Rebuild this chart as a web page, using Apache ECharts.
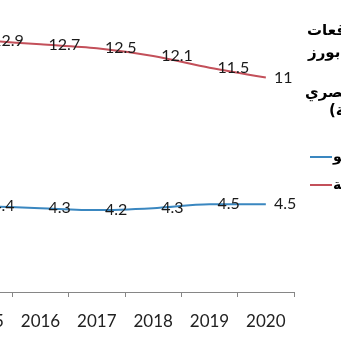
<!DOCTYPE html>
<html>
<head>
<meta charset="utf-8">
<script src="https://cdn.jsdelivr.net/npm/echarts@6/dist/echarts.min.js"></script>
<style>
html,body{margin:0;padding:0;background:#fff;}
#c{width:341px;height:341px;}
</style>
</head>
<body>
<div id="c"></div>
<script>
const years = ['2015', '2016', '2017', '2018', '2019', '2020'];
const unemployment = [12.9, 12.7, 12.5, 12.1, 11.5, 11];
const growth = [4.4, 4.3, 4.2, 4.3, 4.5, 4.5];
const seriesNames = ['\u200Fمعدل النمو\u200F', '\u200Fمعدل البطالة\u200F'];
const titleLines = [
  'معدلي النمو والبطالة وفق توقعات',
  'مؤسسة ستاندرد آند بورز',
  'في الاقتصاد',
  'المصري',
  '\u200F(نسبة مئوية)\u200F'
];

const chart = echarts.init(document.getElementById('c'), null, {renderer: 'canvas'});
const arFont = '"DejaVu Sans", sans-serif';
const numFont = 'Lato, "Open Sans", sans-serif';
const titleX = [307, 308, 352, 305, 329];
const titleY = [33, 55, 74, 95, 113];

chart.setOption({
  animation: false,
  backgroundColor: '#ffffff',
  grid: {left: -44, right: 47, top: 19, bottom: 49, outerBoundsMode: 'none', containLabel: false},
  xAxis: {
    type: 'category',
    data: years,
    boundaryGap: true,
    axisLine: {lineStyle: {color: '#868686', width: 1}},
    axisTick: {show: true, length: 5, alignWithLabel: false, lineStyle: {color: '#868686'}},
    axisLabel: {fontSize: 17, color: '#222', fontFamily: numFont, margin: 21, interval: 0},
    splitLine: {show: false}
  },
  yAxis: {type: 'value', min: 0, max: 14, show: false, splitLine: {show: false}},
  legend: {
    orient: 'vertical',
    left: 310,
    top: 150,
    padding: 0,
    icon: 'rect',
    itemWidth: 22,
    itemHeight: 2,
    itemGap: 14,
    data: seriesNames,
    textStyle: {fontFamily: arFont, fontWeight: 'bold', fontSize: 14, color: '#000', lineHeight: 14, padding: [0, 0, 0, -4]}
  },
  graphic: titleLines.map((t, i) => ({
    type: 'text',
    left: titleX[i],
    top: titleY[i] - 9,
    style: {text: t, fontFamily: arFont, fontWeight: 'bold', fontSize: 15, fill: '#000'}
  })),
  series: [
    {
      name: seriesNames[0],
      type: 'line',
      data: growth,
      symbol: 'circle',
      symbolSize: 0.1,
      showSymbol: true,
      smooth: 0.3,
      lineStyle: {color: '#3a87c0', width: 2},
      itemStyle: {color: '#3a87c0'},
      label: {show: true, position: 'right', distance: 8, fontSize: 16, color: '#1a1a1a', fontFamily: numFont}
    },
    {
      name: seriesNames[1],
      type: 'line',
      data: unemployment,
      symbol: 'circle',
      symbolSize: 0.1,
      showSymbol: true,
      smooth: 0.3,
      lineStyle: {color: '#c3505a', width: 2},
      itemStyle: {color: '#c3505a'},
      label: {show: true, position: 'right', distance: 8, fontSize: 16, color: '#1a1a1a', fontFamily: numFont}
    }
  ]
});
</script>
</body>
</html>
